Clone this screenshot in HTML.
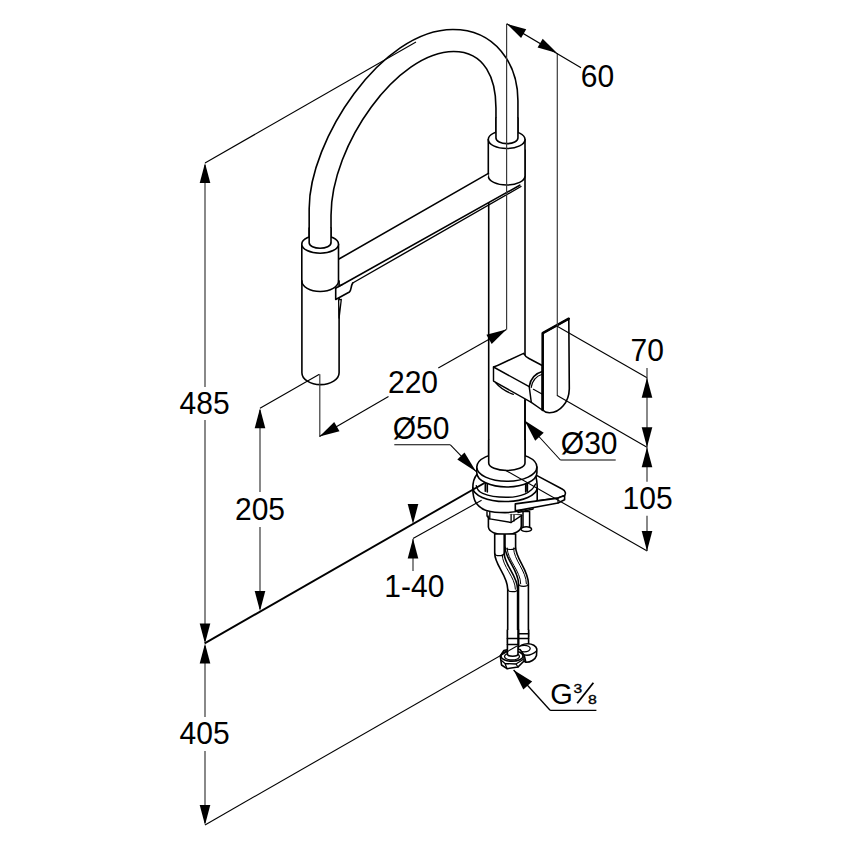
<!DOCTYPE html>
<html><head><meta charset="utf-8"><style>
html,body{margin:0;padding:0;background:#fff;}
svg{display:block;}
text{font-family:"Liberation Sans",sans-serif;fill:#000;}
</style></head><body>
<svg width="846" height="849" viewBox="0 0 846 849">
<rect width="846" height="849" fill="#fff"/>
<path d="M309.17,240 L309.17,208.67 C309.17,140.38 381.26,29.43 452.88,29.43 C494.98,29.43 517.94,63.57 517.94,100.68 L517.94,138" stroke="#000" stroke-width="1.6" fill="none" stroke-linejoin="round" stroke-linecap="round" />
<path d="M331.02,248 L331.02,215.34 C331.02,144.77 397.56,51.50 453.63,51.50 C485.20,51.50 495.96,79.19 495.96,107.88 L495.96,140" stroke="#000" stroke-width="1.6" fill="none" stroke-linejoin="round" stroke-linecap="round" />
<path d="M488.7,150 L488.7,463 A18.15,7.5 0 0 0 525,463 L525,150 Z" stroke="#000" stroke-width="0" fill="#fff" stroke-linejoin="round" stroke-linecap="round" stroke-opacity="0"/>
<path d="M488.7,200 L488.7,463 M525,150 L525,463" stroke="#000" stroke-width="1.6" fill="none" stroke-linejoin="round" stroke-linecap="round" />
<path d="M488.3,139.5 L488.3,176 A18.35,9 0 0 0 525,176 L525,139.5 Z" stroke="#000" stroke-width="1.6" fill="#fff" stroke-linejoin="round" stroke-linecap="round" />
<path d="M488.30,139.50 A18.35,9 0 1 0 525.00,139.50 A18.35,9 0 1 0 488.30,139.50Z" stroke="#000" stroke-width="1.6" fill="#fff" stroke-linejoin="round" stroke-linecap="round" />
<path d="M495.96,118 L495.96,138.1 A10.99,5.5 0 0 0 517.94,138.1 L517.94,118" stroke="#000" stroke-width="1.6" fill="#fff" stroke-linejoin="round" stroke-linecap="round" />
<path d="M496.8,118 L517.6,118" stroke="#000" stroke-width="0" fill="#fff" stroke-linejoin="round" stroke-linecap="round" />
<path d="M338.5,259 L488.3,173.8 L488.3,176 A18.35,9 0 0 0 520.3,184.7 L335.7,288.2 Z" stroke="#000" stroke-width="0" fill="#fff" stroke-linejoin="round" stroke-linecap="round" stroke-opacity="0"/>
<path d="M338.5,259.3 L488.4,173.4" stroke="#000" stroke-width="1.6" fill="none" stroke-linejoin="round" stroke-linecap="round" />
<path d="M335.7,288.2 L519.8,185.2" stroke="#000" stroke-width="1.6" fill="none" stroke-linejoin="round" stroke-linecap="round" />
<path d="M352.7,283 L521,186.5" stroke="#000" stroke-width="1.4" fill="none" stroke-linejoin="round" stroke-linecap="round" />
<path d="M301.8,244.2 L301.8,281 A18.35,10.5 0 0 0 338.5,281 L338.5,244.2 Z" stroke="#000" stroke-width="1.6" fill="#fff" stroke-linejoin="round" stroke-linecap="round" />
<path d="M301.80,244.20 A18.35,9 0 1 0 338.50,244.20 A18.35,9 0 1 0 301.80,244.20Z" stroke="#000" stroke-width="1.6" fill="#fff" stroke-linejoin="round" stroke-linecap="round" />
<path d="M309.17,228 L309.17,242.9 A10.93,5.5 0 0 0 331.02,242.9 L331.02,228" stroke="#000" stroke-width="1.6" fill="#fff" stroke-linejoin="round" stroke-linecap="round" />
<path d="M301.9,281 L301.9,372.7 A18.6,11.9 0 0 0 339.1,372.7 L339.1,281" stroke="#000" stroke-width="1.6" fill="#fff" stroke-linejoin="round" stroke-linecap="round" />
<path d="M301.8,281 A18.35,10.5 0 0 0 338.5,281" stroke="#000" stroke-width="1.6" fill="none" stroke-linejoin="round" stroke-linecap="round" />
<path d="M335.7,288.2 L335.7,299.5 L349.4,292 C351.5,290.5 350.5,286.5 352.7,283" stroke="#000" stroke-width="1.6" fill="#fff" stroke-linejoin="round" stroke-linecap="round" />
<path d="M338.6,299.8 L341.3,299.3 L339.1,318 Z" stroke="#000" stroke-width="1.3" fill="#fff" stroke-linejoin="round" stroke-linecap="round" />
<path d="M335.5,288.3 L342,284.6" stroke="#000" stroke-width="1.6" fill="none" stroke-linejoin="round" stroke-linecap="round" />
<path d="M493.5,367 C497,366 500,364.5 505,362 L523.6,353.3 C525,356 526,357 529,358.5 L542.2,365.5 L542.2,410 L531.3,402.4 L493.5,381.1 Z" stroke="#000" stroke-width="1.45" fill="#fff" stroke-linejoin="round" stroke-linecap="round" />
<path d="M493.5,367 L529.2,386.6 L531.3,402.4" stroke="#000" stroke-width="1.45" fill="none" stroke-linejoin="round" stroke-linecap="round" />
<path d="M529.2,386.6 C530.5,378.5 535.5,373.5 542.2,371.6" stroke="#000" stroke-width="1.6" fill="none" stroke-linejoin="round" stroke-linecap="round" />
<path d="M531.2,387.4 C532.5,380 537,375.8 542.2,374.2" stroke="#000" stroke-width="1.2" fill="none" stroke-linejoin="round" stroke-linecap="round" />
<path d="M533.4,389.3 L542,394" stroke="#000" stroke-width="1.2" fill="none" stroke-linejoin="round" stroke-linecap="round" />
<path d="M495.5,382.5 C500,388 507,392 513.4,394.4" stroke="#000" stroke-width="1.2" fill="none" stroke-linejoin="round" stroke-linecap="round" />
<path d="M542.7,333.2 L568.8,318.7 L569.3,388.9 C569,402 560,413 549.3,412.8 C546,412.5 544,411.5 542.7,410 Z" stroke="#000" stroke-width="1.6" fill="#fff" stroke-linejoin="round" stroke-linecap="round" />
<path d="M542.7,410 L542.7,333.2 L568.8,318.7" stroke="#000" stroke-width="2.5" fill="none" stroke-linejoin="round" stroke-linecap="round" />
<path d="M525,400.5 L525,463" stroke="#000" stroke-width="1.6" fill="none" stroke-linejoin="round" stroke-linecap="round" />
<path d="M535.6,474.9 L562.1,489 C566,491 566,494 564.6,495.5 L558,498.1 L515.3,503.9" stroke="#000" stroke-width="1.6" fill="#fff" stroke-linejoin="round" stroke-linecap="round" />
<path d="M488.4,515 L488.4,527 C489,532 496,534.7 505,534.7 C514,534.7 521.3,531 521.3,526 L521.3,515 Z" stroke="#000" stroke-width="1.6" fill="#fff" stroke-linejoin="round" stroke-linecap="round" />
<path d="M487,511.8 L521.7,515.4 L511.1,522.5 L489.8,518.9 Z" stroke="#000" stroke-width="0" fill="#fff" stroke-linejoin="round" stroke-linecap="round" stroke-opacity="0"/>
<path d="M487,511.8 L487,516 L489.8,518.9 L511.1,522.5 L521.7,515.4" stroke="#000" stroke-width="1.4" fill="none" stroke-linejoin="round" stroke-linecap="round" />
<path d="M489.8,512.2 L489.8,518.9 M511.1,514.5 L511.1,522.5 M514,514.8 L514,521" stroke="#000" stroke-width="1.3" fill="none" stroke-linejoin="round" stroke-linecap="round" />
<path d="M523,511.5 L523,528.1 L529.6,528.1 L529.6,511.5 Z" stroke="#000" stroke-width="1.5" fill="#fff" stroke-linejoin="round" stroke-linecap="round" />
<path d="M521.00,529.20 A5.3,2.4 0 1 0 531.60,529.20 A5.3,2.4 0 1 0 521.00,529.20Z" stroke="#000" stroke-width="1.5" fill="#fff" stroke-linejoin="round" stroke-linecap="round" />
<path d="M517.4,510.1 L533.1,506.8 L533.1,509 L518,512.5" stroke="#000" stroke-width="1.3" fill="#fff" stroke-linejoin="round" stroke-linecap="round" />
<path d="M477,474.3 C474,478 472.8,483 472.8,488 C472.8,495 474,500 476.3,503.3 C479,507 483,509.5 486.3,510.4 C492,512 499,512.6 505,512.6 C520,512.6 533,508 537.2,500 L537.2,486 C537,480 536,477 535.6,474.9 Z" stroke="#000" stroke-width="1.6" fill="#fff" stroke-linejoin="round" stroke-linecap="round" />
<path d="M472.8,487.5 A32.2,14 0 0 0 537.2,487.5" stroke="#000" stroke-width="1.6" fill="none" stroke-linejoin="round" stroke-linecap="round" />
<path d="M476.3,485.6 C477,490 479.5,492 482.7,493.4 C490,496.5 498,497.3 506,497.3 C520,497.3 532,493 535.5,484" stroke="#000" stroke-width="1.4" fill="none" stroke-linejoin="round" stroke-linecap="round" />
<path d="M485.3,481.5 L485.3,491.3 M487.3,482 L487.3,492 M527.4,481.5 L527.4,491.3 M525.7,482 L525.7,492" stroke="#000" stroke-width="1.6" fill="none" stroke-linejoin="round" stroke-linecap="round" />
<path d="M515.3,503.9 L558,498.1 L564.6,495.5 L564.6,499.7 L558,503 L515.3,510.9 Z" stroke="#000" stroke-width="1.6" fill="#fff" stroke-linejoin="round" stroke-linecap="round" />
<path d="M558,498.1 L558,503" stroke="#000" stroke-width="1.2" fill="none" stroke-linejoin="round" stroke-linecap="round" />
<path d="M476.8,467 L476.8,472.7 A30.05,14.3 0 0 0 536.9,472.7 L536.9,467 Z" stroke="#000" stroke-width="1.6" fill="#fff" stroke-linejoin="round" stroke-linecap="round" />
<path d="M476.80,467.00 A30.05,14.3 0 1 0 536.90,467.00 A30.05,14.3 0 1 0 476.80,467.00Z" stroke="#000" stroke-width="1.6" fill="#fff" stroke-linejoin="round" stroke-linecap="round" />
<path d="M488.7,440 L488.7,463 A18.15,7.5 0 0 0 525,463 L525,440" stroke="#000" stroke-width="1.6" fill="#fff" stroke-linejoin="round" stroke-linecap="round" />
<path d="M505.0,534 L505.0,547 C505.0,559 518.5,569.8 518.5,583.8 L518.5,637 L528.4,637 L528.4,583.8 C528.4,569.8 515.6,559 515.6,547 L515.6,534 Z" stroke="#000" stroke-width="1.6" fill="#fff" stroke-linejoin="round" stroke-linecap="round" />
<path d="M505.0,547 A5.300000000000011,2.5 0 0 0 515.6,547" stroke="#000" stroke-width="1.2" fill="none" stroke-linejoin="round" stroke-linecap="round" />
<path d="M518.5,583.8 A4.949999999999989,2.5 0 0 0 528.4,583.8" stroke="#000" stroke-width="1.2" fill="none" stroke-linejoin="round" stroke-linecap="round" />
<path d="M507.2,548 C507.2,560 520.7,570.8 520.7,583.8" stroke="#000" stroke-width="1.0" fill="none" stroke-linejoin="round" stroke-linecap="round" />
<path d="M513.6,548 C513.6,560 526.4,570.8 526.4,583.8" stroke="#000" stroke-width="1.0" fill="none" stroke-linejoin="round" stroke-linecap="round" />
<path d="M494.7,534 L494.7,553.2 C494.7,565.2 507.7,575.2 507.7,589.2 L507.7,643 L517.6,643 L517.6,589.2 C517.6,575.2 504.2,565.2 504.2,553.2 L504.2,534 Z" stroke="#000" stroke-width="1.6" fill="#fff" stroke-linejoin="round" stroke-linecap="round" />
<path d="M494.7,553.2 A4.75,2.5 0 0 0 504.2,553.2" stroke="#000" stroke-width="1.2" fill="none" stroke-linejoin="round" stroke-linecap="round" />
<path d="M507.7,589.2 A4.950000000000017,2.5 0 0 0 517.6,589.2" stroke="#000" stroke-width="1.2" fill="none" stroke-linejoin="round" stroke-linecap="round" />
<path d="M502.2,554.5 C502.2,566.5 515.4,577.2 515.4,589.2" stroke="#000" stroke-width="1.0" fill="none" stroke-linejoin="round" stroke-linecap="round" />
<path d="M518.7,630 L518.7,648.4 A4.95,2 0 0 0 528.6,648.4 L528.6,630" stroke="#000" stroke-width="1.6" fill="#fff" stroke-linejoin="round" stroke-linecap="round" />
<path d="M518.7,633.8 L528.6,633.8 M518.7,638.5 L528.6,638.5" stroke="#000" stroke-width="1.4" fill="none" stroke-linejoin="round" stroke-linecap="round" />
<path d="M518.5,649 A9.2,5.8 0 0 1 536.8,649 L536.5,655.5 C535.5,659.5 530,662.5 526,662.3 L519.5,659 Z" stroke="#000" stroke-width="1.6" fill="#fff" stroke-linejoin="round" stroke-linecap="round" />
<path d="M521,653.5 C526,656.5 532,655 536.6,651 M526,662.3 L524.5,656" stroke="#000" stroke-width="1.3" fill="none" stroke-linejoin="round" stroke-linecap="round" />
<path d="M518.20,648.60 A6,3.2 0 1 0 530.20,648.60 A6,3.2 0 1 0 518.20,648.60Z" stroke="#000" stroke-width="1.3" fill="#fff" stroke-linejoin="round" stroke-linecap="round" />
<path d="M500.3,656 L503.9,650.5 L512,648.6 L520,649.5 L524,655 L524,661 L518,667 L507,668.7 L501.5,665 Z" stroke="#000" stroke-width="1.6" fill="#fff" stroke-linejoin="round" stroke-linecap="round" />
<path d="M501.5,660.5 L505,663.5 L516,664 L523,659.5 M505,663.5 L507,668.7 M516,664 L518,667" stroke="#000" stroke-width="1.3" fill="none" stroke-linejoin="round" stroke-linecap="round" />
<path d="M501.00,656.00 A11,5.3 0 1 0 523.00,656.00 A11,5.3 0 1 0 501.00,656.00Z" stroke="#000" stroke-width="1.5" fill="#fff" stroke-linejoin="round" stroke-linecap="round" />
<path d="M504.50,656.50 A7.5,3.5 0 1 0 519.50,656.50 A7.5,3.5 0 1 0 504.50,656.50Z" stroke="#000" stroke-width="1.3" fill="#fff" stroke-linejoin="round" stroke-linecap="round" />
<path d="M507.4,630 L507.4,654 A5.3,2.2 0 0 0 518,654 L518,630" stroke="#000" stroke-width="1.6" fill="#fff" stroke-linejoin="round" stroke-linecap="round" />
<path d="M507.4,638.6 L518,638.6 M507.4,644.5 L518,644.5" stroke="#000" stroke-width="1.5" fill="none" stroke-linejoin="round" stroke-linecap="round" />
<line x1="205" y1="165" x2="205" y2="387" stroke="#3a3a3a" stroke-width="1.2"/>
<line x1="205" y1="420" x2="205" y2="641" stroke="#3a3a3a" stroke-width="1.2"/>
<path d="M205.00,163.00 L199.70,183.00 L210.30,183.00Z" fill="#000"/>
<path d="M205.00,643.40 L210.30,623.40 L199.70,623.40Z" fill="#000"/>
<line x1="205" y1="163" x2="416" y2="42" stroke="#000" stroke-width="1.1"/>
<text transform="translate(204.6,414) scale(0.95,1)" x="0" y="0" font-size="31.6" text-anchor="middle">485</text>
<line x1="205" y1="646" x2="205" y2="717" stroke="#3a3a3a" stroke-width="1.2"/>
<line x1="205" y1="751" x2="205" y2="823" stroke="#3a3a3a" stroke-width="1.2"/>
<path d="M205.00,643.60 L199.70,663.60 L210.30,663.60Z" fill="#000"/>
<path d="M205.00,825.00 L210.30,805.00 L199.70,805.00Z" fill="#000"/>
<line x1="205" y1="825" x2="517" y2="646" stroke="#000" stroke-width="1.1"/>
<text transform="translate(204.6,744.2) scale(0.95,1)" x="0" y="0" font-size="31.6" text-anchor="middle">405</text>
<line x1="204.6" y1="643.4" x2="484.5" y2="483" stroke="#000" stroke-width="1.9"/>
<line x1="413" y1="538.6" x2="481.6" y2="500.2" stroke="#000" stroke-width="1.1"/>
<path d="M413.00,524.00 L418.30,504.00 L407.70,504.00Z" fill="#000"/>
<line x1="413" y1="539" x2="413" y2="571" stroke="#3a3a3a" stroke-width="1.2"/>
<path d="M413.00,538.60 L407.70,558.60 L418.30,558.60Z" fill="#000"/>
<text transform="translate(414.3,597) scale(0.95,1)" x="0" y="0" font-size="31.6" text-anchor="middle">1-40</text>
<line x1="260" y1="410" x2="260" y2="492" stroke="#3a3a3a" stroke-width="1.2"/>
<line x1="260" y1="527" x2="260" y2="609" stroke="#3a3a3a" stroke-width="1.2"/>
<path d="M260.00,408.20 L254.70,428.20 L265.30,428.20Z" fill="#000"/>
<path d="M260.00,611.00 L265.30,591.00 L254.70,591.00Z" fill="#000"/>
<line x1="260" y1="408.2" x2="319.4" y2="374.2" stroke="#000" stroke-width="1.1"/>
<text transform="translate(260,520) scale(0.95,1)" x="0" y="0" font-size="31.6" text-anchor="middle">205</text>
<line x1="319.8" y1="374.2" x2="319.8" y2="436.6" stroke="#3a3a3a" stroke-width="1.2"/>
<path d="M319.50,436.60 L339.49,431.25 L334.21,422.05Z" fill="#000"/>
<path d="M506.40,329.40 L486.41,334.75 L491.69,343.95Z" fill="#000"/>
<line x1="319.5" y1="436.6" x2="388.5" y2="396.5" stroke="#000" stroke-width="1.1"/>
<line x1="438.3" y1="368" x2="506.4" y2="329.4" stroke="#000" stroke-width="1.1"/>
<line x1="506.6" y1="23.8" x2="506.6" y2="329.4" stroke="#3a3a3a" stroke-width="1.2"/>
<text transform="translate(413,393) scale(0.95,1)" x="0" y="0" font-size="31.6" text-anchor="middle">220</text>
<line x1="557.3" y1="53" x2="557.3" y2="396" stroke="#3a3a3a" stroke-width="1.2"/>
<path d="M506.80,23.80 L521.09,38.01 L526.22,29.20Z" fill="#000"/>
<path d="M557.00,53.00 L542.71,38.79 L537.58,47.60Z" fill="#000"/>
<line x1="506.8" y1="23.8" x2="581" y2="67.8" stroke="#000" stroke-width="1.1"/>
<text transform="translate(597.5,86.8) scale(0.95,1)" x="0" y="0" font-size="31.6" text-anchor="middle">60</text>
<line x1="557.2" y1="326.3" x2="647" y2="377.7" stroke="#000" stroke-width="1.1"/>
<line x1="557.2" y1="395.5" x2="647" y2="447.2" stroke="#000" stroke-width="1.1"/>
<line x1="505.4" y1="470.2" x2="647.2" y2="550.9" stroke="#000" stroke-width="1.1"/>
<line x1="647" y1="368" x2="647" y2="481.7" stroke="#3a3a3a" stroke-width="1.2"/>
<line x1="647" y1="515.7" x2="647" y2="551" stroke="#3a3a3a" stroke-width="1.2"/>
<path d="M647.00,377.70 L641.70,397.70 L652.30,397.70Z" fill="#000"/>
<path d="M647.00,447.20 L652.30,427.20 L641.70,427.20Z" fill="#000"/>
<path d="M647.00,447.20 L641.70,467.20 L652.30,467.20Z" fill="#000"/>
<path d="M647.00,550.90 L652.30,530.90 L641.70,530.90Z" fill="#000"/>
<text transform="translate(647.3,360.5) scale(0.95,1)" x="0" y="0" font-size="31.6" text-anchor="middle">70</text>
<text transform="translate(647.6,509.2) scale(0.95,1)" x="0" y="0" font-size="31.6" text-anchor="middle">105</text>
<path d="M524.60,420.50 L535.18,440.64 L543.73,432.81Z" fill="#000"/>
<line x1="524.7" y1="421" x2="560.4" y2="460" stroke="#000" stroke-width="1.1"/>
<line x1="560.4" y1="460" x2="615.7" y2="460" stroke="#000" stroke-width="1.1"/>
<text transform="translate(589.2,453.6) scale(0.95,1)" x="0" y="0" font-size="31.6" text-anchor="middle">Ø30</text>
<line x1="394.3" y1="444.8" x2="450.4" y2="444.8" stroke="#000" stroke-width="1.1"/>
<line x1="450.4" y1="444.8" x2="476.3" y2="471.6" stroke="#000" stroke-width="1.1"/>
<path d="M476.20,471.80 L464.51,452.51 L457.32,459.45Z" fill="#000"/>
<text transform="translate(421,439) scale(0.95,1)" x="0" y="0" font-size="31.6" text-anchor="middle">Ø50</text>
<path d="M513.60,670.00 L523.34,689.55 L532.19,681.46Z" fill="#000"/>
<line x1="513.6" y1="670" x2="550.1" y2="710.3" stroke="#000" stroke-width="1.3"/>
<line x1="550.1" y1="710.3" x2="596.4" y2="710.3" stroke="#000" stroke-width="1.3"/>
<text x="550.3" y="704.2" font-size="29">G</text>
<text transform="translate(577.8,692.6) scale(1.3,1)" x="0" y="0" font-size="12" text-anchor="middle" stroke="#000" stroke-width="0.35">3</text>
<text transform="translate(592.4,703.6) scale(1.2,1)" x="0" y="0" font-size="13.2" text-anchor="middle" stroke="#000" stroke-width="0.35">8</text>
<line x1="577.2" y1="703.3" x2="593.4" y2="682.8" stroke="#000" stroke-width="1.8"/>
</svg></body></html>
